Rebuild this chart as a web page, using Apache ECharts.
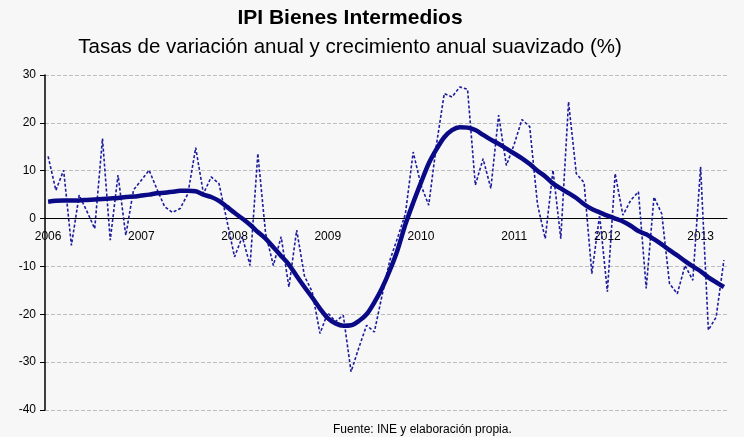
<!DOCTYPE html>
<html>
<head>
<meta charset="utf-8">
<script src="https://cdn.jsdelivr.net/npm/echarts@6/dist/echarts.min.js"></script>
<style>
  html, body { margin: 0; padding: 0; background: #f7f7f7; }
  #chart { width: 744px; height: 437px; }
</style>
</head>
<body>
<div id="chart"></div>
<script>
'use strict';

// tick labels, one per January (month index 0, 12, 24, ...)
const years = ['2006', '2007', '2008', '2009', '2010', '2011', '2012', '2013'];

// monthly annual rate of change, Jan 2006 .. Apr 2013
const annual = [
  13, 5.9, 10.1, -5.6, 4.9, 1.5, -2.1, 16.7, -4.5, 9.1, -3.5, 6,
  8, 10.1, 6.2, 2.5, 1.3, 2.1, 5.2, 14.8, 5.2, 8.7, 7.3, -0.3,
  -8.0, -3.8, -9.8, 13.6, -3.1, -9.8, -3.8, -14.3, -2.4, -12.0, -15.3, -24.0,
  -19.7, -21.5, -20.2, -32.0, -27.0, -22.3, -23.7, -16.0, -8.7, -4.0, 1.0, 13.9,
  7.0, 2.8, 15.5, 26.1, 25.4, 27.5, 27.0, 7.0, 12.5, 6.3, 21.6, 11.1,
  15.5, 20.7, 19.2, 3.0, -4.2, 10.1, -4.2, 24.4, 9.4, 7.5, -11.5, 0.7,
  -15.3, 9.4, 0.7, 3.8, 5.6, -14.6, 4.5, 1.0, -13.6, -15.7, -9.8, -12.9,
  10.8, -23.3, -20.6, -8.7
];

// smoothed annual growth
const smoothed = [
  3.5, 3.7, 3.8, 3.8, 3.8, 3.9, 4.0, 4.1, 4.2, 4.3, 4.5, 4.6,
  4.8, 5.0, 5.3, 5.4, 5.6, 5.8, 5.8, 5.7, 5.0, 4.5, 3.7, 2.5,
  1.2, 0.0, -1.3, -2.8, -4.2, -6.0, -7.8, -9.6, -12.0, -14.3, -16.5, -18.8,
  -20.8, -21.9, -22.4, -22.3, -21.4, -20.0, -17.5, -14.5, -10.8, -6.5, -1.2, 3.3,
  7.5, 11.5, 14.5, 17.0, 18.5, 19.1, 19.0, 18.5, 17.5, 16.5, 15.6, 14.6,
  13.6, 12.6, 11.4, 10.0, 8.8, 7.3, 6.3, 5.3, 4.3, 3.0, 2.0, 1.3,
  0.6, 0.0, -0.6, -1.5, -2.6, -3.3, -4.3, -5.4, -6.6, -7.7, -8.9, -10.0,
  -11.0, -12.3, -13.3, -14.3
];

const yTicks = { min: -40, max: 30, step: 10 };

const font = '"Liberation Sans", Arial, sans-serif';
const toPairs = arr => arr.map((v, i) => [i, v]);
const yearTicks = years.map((y, k) => k * 12);

const gridTop = 75, gridBottom = 27, height = 437;
// move the x axis up onto the zero line (labels follow it)
const plotH = height - gridTop - gridBottom;
const zeroOffset = -plotH * (0 - yTicks.min) / (yTicks.max - yTicks.min);

const chart = echarts.init(document.getElementById('chart'), null, { renderer: 'canvas' });

chart.setOption({
  backgroundColor: '#f7f7f7',
  animation: false,
  graphic: [
    {
      type: 'text', x: 350, y: 8,
      style: { text: 'IPI Bienes Intermedios', textAlign: 'center', font: 'bold 21px ' + font, fill: '#000' }
    },
    {
      type: 'text', x: 350, y: 37,
      style: { text: 'Tasas de variación anual y crecimiento anual suavizado (%)', textAlign: 'center', font: '20.5px ' + font, fill: '#000' }
    },
    {
      type: 'text', x: 333, y: 424,
      style: { text: 'Fuente: INE y elaboración propia.', font: '12px ' + font, fill: '#000' }
    }
  ],
  grid: { left: 45, right: 17, top: gridTop, bottom: gridBottom },
  xAxis: {
    type: 'value',
    min: -0.4,
    max: 87.4,
    position: 'bottom',
    offset: zeroOffset,
    axisLine: { onZero: false, lineStyle: { color: '#000', width: 1 } },
    axisTick: { show: false },
    splitLine: { show: false },
    axisLabel: {
      customValues: yearTicks,
      formatter: v => years[Math.round(v / 12)],
      margin: 12,
      color: '#000',
      fontFamily: font,
      fontSize: 12
    }
  },
  yAxis: {
    type: 'value',
    min: yTicks.min,
    max: yTicks.max,
    interval: yTicks.step,
    axisLine: { show: true, onZero: false, lineStyle: { color: '#000', width: 1.5 } },
    axisTick: { show: true, length: 5, lineStyle: { color: '#000' } },
    axisLabel: { color: '#000', fontFamily: font, fontSize: 12, margin: 9 },
    splitLine: { lineStyle: { color: '#bdbdbd', type: [4, 2], width: 1 } }
  },
  series: [
    {
      name: 'Tasa anual',
      type: 'line',
      data: toPairs(annual),
      showSymbol: false,
      lineStyle: { color: '#1c1c9c', width: 1.6, type: [3, 2] }
    },
    {
      name: 'Suavizado',
      type: 'line',
      data: toPairs(smoothed),
      smooth: 0.3,
      showSymbol: false,
      lineStyle: { color: '#0a0a86', width: 4.5 }
    }
  ]
});
</script>
</body>
</html>
